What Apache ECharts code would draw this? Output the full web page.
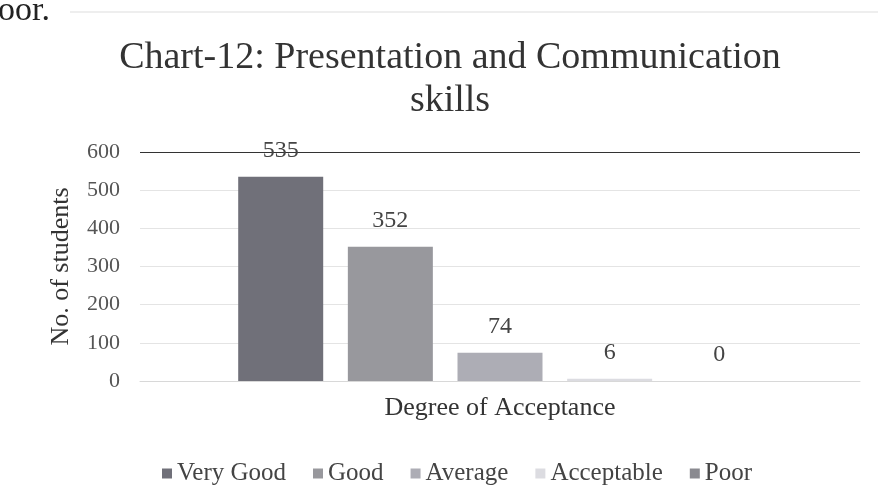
<!DOCTYPE html>
<html>
<head>
<meta charset="utf-8">
<script src="https://cdn.jsdelivr.net/npm/echarts@6/dist/echarts.min.js"></script>
<style>
  html, body { margin: 0; padding: 0; background: #fff; }
  #chart-container { width: 878px; height: 501px; }
</style>
</head>
<body>
<div id="chart-container"></div>
<script>
// data
let categories = ["Degree of Acceptance"];
let seriesNames = ["Very Good", "Good", "Average", "Acceptable", "Poor"];
let seriesValues = [535, 352, 74, 6, 0];
let seriesColors = ["#707079", "#98989d", "#adadb5", "#dcdce1", "#8a8a90"];
let yTicks = [0, 100, 200, 300, 400, 500, 600];

let serif = "'Liberation Serif', 'DejaVu Serif', serif";

let dom = document.getElementById("chart-container");
let myChart = echarts.init(dom, null, {
    renderer: "canvas",
    useDirtyRect: false,
});
let option;

option = {
    backgroundColor: "#fff",
    animation: false,
    title: {
        text: "Chart-12: Presentation and Communication\nskills",
        left: 445,
        top: 32,
        textAlign: "center",
        textStyle: {
            fontFamily: serif,
            fontSize: 38,
            fontWeight: "normal",
            color: "#333",
            lineHeight: 43,
        },
    },
    graphic: [{
        type: "text",
        left: -19,
        top: -6,
        style: { text: "poor.", font: "34px " + serif, fill: "#222" },
    }, {
        type: "line",
        shape: { x1: 70, y1: 12, x2: 878, y2: 12 },
        style: { stroke: "#ddd", lineWidth: 1 },
    }],
    legend: {
        top: 456,
        left: 157,
        itemWidth: 10,
        itemHeight: 10,
        itemGap: 27,
        icon: "rect",
        data: seriesNames,
        textStyle: { fontFamily: serif, fontSize: 25, color: "#444" },
    },
    grid: { left: 140, right: 18, top: 152, bottom: 120 },
    xAxis: {
        type: "category",
        data: categories,
        name: "Degree of Acceptance",
        nameLocation: "middle",
        nameGap: 14,
        nameTextStyle: { fontFamily: serif, fontSize: 26, color: "#333" },
        axisLine: { show: true, lineStyle: { color: "#d8d8d8" } },
        axisTick: { show: false },
        axisLabel: { show: false },
    },
    yAxis: {
        type: "value",
        min: yTicks[0],
        max: yTicks[yTicks.length - 1],
        interval: 100,
        name: "No. of students",
        nameLocation: "middle",
        nameGap: 66,
        nameTextStyle: { fontFamily: serif, fontSize: 26, color: "#333" },
        axisLine: { show: false },
        axisTick: { show: false },
        axisLabel: {
            margin: 20,
            fontFamily: serif,
            fontSize: 22,
            color: "#555",
        },
        splitLine: {
            lineStyle: {
                color: ["#dcdcdc", "#e4e4e4", "#e4e4e4", "#e4e4e4", "#e4e4e4", "#e4e4e4", "#333"],
                width: 1,
            },
        },
    },
    series: seriesNames.map(function (name, i) {
        return {
            name: name,
            type: "bar",
            data: [seriesValues[i]],
            barWidth: 85,
            barGap: "29%",
            itemStyle: { color: seriesColors[i] },
            label: {
                show: true,
                position: "top",
                distance: 14,
                fontFamily: serif,
                fontSize: 24,
                color: "#444",
            },
        };
    }),
};

if (option && typeof option === "object") {
    myChart.setOption(option);
}

window.addEventListener("resize", myChart.resize);
</script>
</body>
</html>
